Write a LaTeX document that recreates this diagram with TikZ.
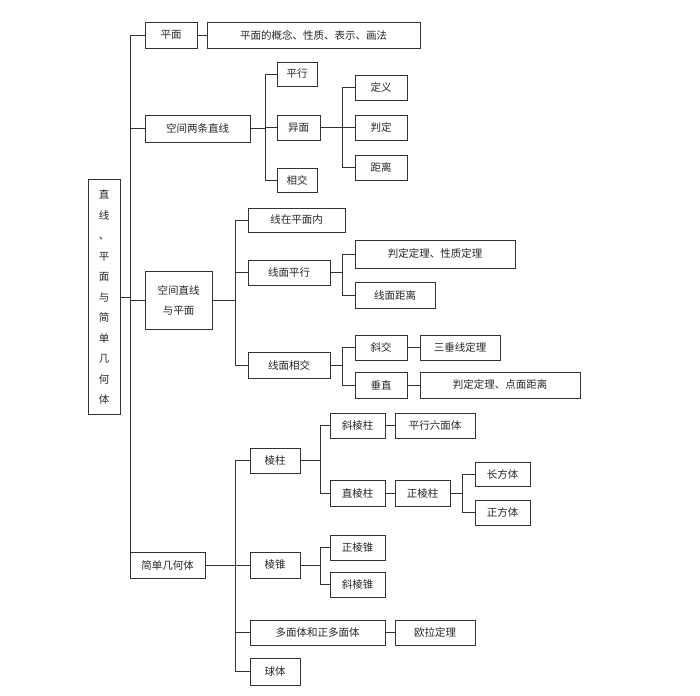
\documentclass[tikz,border=0pt]{standalone}
\usepackage{fontspec}
\setmainfont{Noto Sans CJK SC}
\begin{document}
\begin{tikzpicture}[x=1pt,y=-1pt,
  bx/.style={draw=black!80, line width=0.8pt, inner sep=0pt, font=\fontsize{10.5}{13}\selectfont, text=black!85},
  ln/.style={draw=black!80, line width=0.8pt}]
\useasboundingbox (0,0) rectangle (700,695);
\newcommand\B[6]{\node[bx, minimum width=#4-#2, minimum height=#5-#3] (#1) at ({(#2+#4)/2},{(#3+#5)/2}) {#6};}
\node[bx, minimum width=32, minimum height=235, align=center, font=\fontsize{10.5}{20.5}\selectfont] (root) at (104,297)
 {直\\线\\、\\平\\面\\与\\简\\单\\几\\何\\体};
\B{pm}{145}{22}{197}{48}{平面}
\B{pmd}{207}{22}{420}{48}{平面的概念、性质、表示、画法}
\B{lt}{145}{115}{250}{142}{空间两条直线}
\B{px}{277}{62}{317}{86}{平行}
\B{ym}{277}{115}{320}{140}{异面}
\B{xj}{277}{168}{317}{192}{相交}
\B{dy}{355}{75}{407}{100}{定义}
\B{pd}{355}{115}{407}{140}{判定}
\B{jl}{355}{155}{407}{180}{距离}
\node[bx, minimum width=67, minimum height=58, align=center, font=\fontsize{10.5}{20}\selectfont] (lp) at (178.5,300) {空间直线\\与平面};
\B{zn}{248}{208}{345}{232}{线在平面内}
\B{mp}{248}{260}{330}{285}{线面平行}
\B{mx}{248}{352}{330}{378}{线面相交}
\B{pdx}{355}{240}{515}{268}{判定定理、性质定理}
\B{mjl}{355}{282}{435}{308}{线面距离}
\B{xjj}{355}{335}{407}{360}{斜交}
\B{cz}{355}{372}{407}{398}{垂直}
\B{sc}{420}{335}{500}{360}{三垂线定理}
\B{pdd}{420}{372}{580}{398}{判定定理、点面距离}
\B{jh}{130}{552}{205}{578}{简单几何体}
\B{lz}{250}{448}{300}{473}{棱柱}
\B{lzh}{250}{552}{300}{578}{棱锥}
\B{dmt}{250}{620}{385}{645}{多面体和正多面体}
\B{qt}{250}{658}{300}{685}{球体}
\B{xlz}{330}{413}{385}{438}{斜棱柱}
\B{zlz}{330}{480}{385}{506}{直棱柱}
\B{pxl}{395}{413}{475}{438}{平行六面体}
\B{zl}{395}{480}{450}{506}{正棱柱}
\B{cf}{475}{462}{530}{486}{长方体}
\B{zf}{475}{500}{530}{525}{正方体}
\B{zlzh}{330}{535}{385}{560}{正棱锥}
\B{xlzh}{330}{572}{385}{597}{斜棱锥}
\B{ol}{395}{620}{475}{645}{欧拉定理}
% connectors
\coordinate (j0) at (130,0);
\draw[ln] (root.east) -- (root.east -| j0);
\draw[ln] (pm.west -| j0) -- (jh.north -| j0);
\foreach \c in {pm,lt,lp} \draw[ln] (\c.west) -- (\c.west -| j0);
\draw[ln] (pm) -- (pmd);
\coordinate (j1) at (265,0);
\draw[ln] (lt.east) -- (lt.east -| j1);
\draw[ln] (px.west -| j1) -- (xj.west -| j1);
\foreach \c in {px,ym,xj} \draw[ln] (\c.west) -- (\c.west -| j1);
\coordinate (j2) at (342,0);
\draw[ln] (ym.east) -- (ym.east -| j2);
\draw[ln] (dy.west -| j2) -- (jl.west -| j2);
\foreach \c in {dy,pd,jl} \draw[ln] (\c.west) -- (\c.west -| j2);
\coordinate (j3) at (235,0);
\draw[ln] (lp.east) -- (lp.east -| j3);
\draw[ln] (zn.west -| j3) -- (mx.west -| j3);
\foreach \c in {zn,mp,mx} \draw[ln] (\c.west) -- (\c.west -| j3);
\draw[ln] (mp.east) -- (mp.east -| j2);
\draw[ln] (pdx.west -| j2) -- (mjl.west -| j2);
\foreach \c in {pdx,mjl} \draw[ln] (\c.west) -- (\c.west -| j2);
\draw[ln] (mx.east) -- (mx.east -| j2);
\draw[ln] (xjj.west -| j2) -- (cz.west -| j2);
\foreach \c in {xjj,cz} \draw[ln] (\c.west) -- (\c.west -| j2);
\draw[ln] (xjj) -- (sc); \draw[ln] (cz) -- (pdd);
\draw[ln] (jh.east) -- (jh.east -| j3);
\draw[ln] (lz.west -| j3) -- (qt.west -| j3);
\foreach \c in {lz,lzh,dmt,qt} \draw[ln] (\c.west) -- (\c.west -| j3);
\coordinate (j4) at (320,0);
\draw[ln] (lz.east) -- (lz.east -| j4);
\draw[ln] (xlz.west -| j4) -- (zlz.west -| j4);
\foreach \c in {xlz,zlz} \draw[ln] (\c.west) -- (\c.west -| j4);
\draw[ln] (xlz) -- (pxl); \draw[ln] (zlz) -- (zl);
\coordinate (j5) at (462,0);
\draw[ln] (zl.east) -- (zl.east -| j5);
\draw[ln] (cf.west -| j5) -- (zf.west -| j5);
\foreach \c in {cf,zf} \draw[ln] (\c.west) -- (\c.west -| j5);
\draw[ln] (lzh.east) -- (lzh.east -| j4);
\draw[ln] (zlzh.west -| j4) -- (xlzh.west -| j4);
\foreach \c in {zlzh,xlzh} \draw[ln] (\c.west) -- (\c.west -| j4);
\draw[ln] (dmt) -- (ol);
\end{tikzpicture}
\end{document}
